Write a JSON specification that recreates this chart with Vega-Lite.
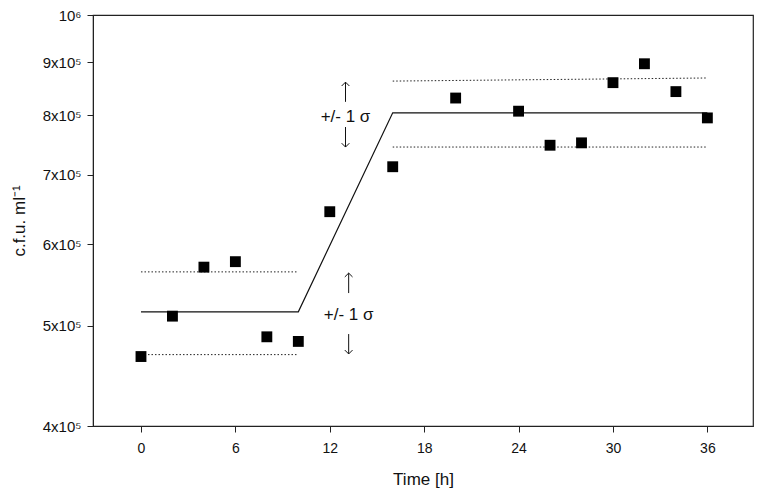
{
  "$schema": "https://vega.github.io/schema/vega-lite/v6.json",
  "width": 660,
  "height": 411,
  "autosize": {"type": "none"},
  "padding": {"left": 93, "top": 15, "right": 9, "bottom": 71},
  "background": "white",
  "config": {
    "view": {"stroke": "#222", "strokeWidth": 1.2},
    "axis": {
      "labelFont": "Liberation Sans",
      "titleFont": "Liberation Sans",
      "labelColor": "#111",
      "titleColor": "#111",
      "domainColor": "#222",
      "tickColor": "#222",
      "grid": false
    }
  },
  "datasets": {
    "points": [
      {"t": 0, "v": 467000}, {"t": 2, "v": 511000}, {"t": 4, "v": 570000},
      {"t": 6, "v": 577000}, {"t": 8, "v": 488000}, {"t": 10, "v": 483000},
      {"t": 12, "v": 645000}, {"t": 16, "v": 713000}, {"t": 20, "v": 831000},
      {"t": 24, "v": 807000}, {"t": 26, "v": 748000}, {"t": 28, "v": 752000},
      {"t": 30, "v": 860000}, {"t": 32, "v": 897000}, {"t": 34, "v": 843000},
      {"t": 36, "v": 795000}
    ],
    "model": [
      {"t": 0, "v": 516000}, {"t": 10, "v": 516000},
      {"t": 16, "v": 804000}, {"t": 36, "v": 804000}
    ],
    "bounds": [
      {"s": "up1", "t": 0, "v": 564000}, {"s": "up1", "t": 10, "v": 564000},
      {"s": "lo1", "t": 0, "v": 469000}, {"s": "lo1", "t": 10, "v": 469000},
      {"s": "up2", "t": 16, "v": 863000}, {"s": "up2", "t": 36, "v": 869000},
      {"s": "lo2", "t": 16, "v": 745000}, {"s": "lo2", "t": 36, "v": 745000}
    ],
    "notes": [
      {"t": 13, "v": 796000, "label": "+/- 1 σ"},
      {"t": 13.2, "v": 512500, "label": "+/- 1 σ"}
    ],
    "arrows": [
      {"t": 13, "tip": 861000, "tail": 824000, "dir": "up"},
      {"t": 13, "tip": 745000, "tail": 779000, "dir": "down"},
      {"t": 13.2, "tip": 562500, "tail": 538000, "dir": "up"},
      {"t": 13.2, "tip": 469700, "tail": 491000, "dir": "down"}
    ]
  },
  "layer": [
    {
      "data": {"name": "bounds"},
      "mark": {"type": "line", "color": "#222", "strokeWidth": 1, "strokeDash": [1.5, 2]},
      "encoding": {
        "x": {"field": "t", "type": "quantitative"},
        "y": {"field": "v", "type": "quantitative"},
        "detail": {"field": "s"}
      }
    },
    {
      "data": {"name": "model"},
      "mark": {"type": "line", "color": "#111", "strokeWidth": 1.2},
      "encoding": {
        "x": {"field": "t", "type": "quantitative"},
        "y": {"field": "v", "type": "quantitative"}
      }
    },
    {
      "data": {"name": "points"},
      "mark": {"type": "square", "color": "black", "opacity": 1, "size": 118},
      "encoding": {
        "x": {
          "field": "t", "type": "quantitative",
          "scale": {"domain": [-3.05, 38.9], "nice": false, "zero": false},
          "axis": {
            "values": [0, 6, 12, 18, 24, 30, 36],
            "title": "Time [h]",
            "titleFontSize": 17,
            "titleFontWeight": "normal",
            "titlePadding": 16,
            "labelFontSize": 14,
            "labelPadding": 9,
            "tickSize": 6,
            "domain": true
          }
        },
        "y": {
          "field": "v", "type": "quantitative",
          "scale": {"type": "log", "domain": [400000, 1000000], "nice": false},
          "axis": {
            "values": [400000, 500000, 600000, 700000, 800000, 900000, 1000000],
            "labelExpr": "datum.value >= 999999 ? '10⁶' : format(datum.value/100000, 'd') + 'x10⁵'",
            "title": "c.f.u. ml⁻¹",
            "titleFontSize": 17,
            "titleFontWeight": "normal",
            "titlePadding": 14,
            "labelFontSize": 15,
            "labelPadding": 6,
            "tickSize": 6
          }
        }
      }
    },
    {
      "data": {"name": "notes"},
      "mark": {"type": "text", "font": "Liberation Sans", "fontSize": 17, "color": "#111", "align": "center", "baseline": "middle"},
      "encoding": {
        "x": {"field": "t", "type": "quantitative"},
        "y": {"field": "v", "type": "quantitative"},
        "text": {"field": "label"}
      }
    },
    {
      "data": {"name": "arrows"},
      "mark": {"type": "rule", "color": "#111", "strokeWidth": 1},
      "encoding": {
        "x": {"field": "t", "type": "quantitative"},
        "y": {"field": "tip", "type": "quantitative"},
        "y2": {"field": "tail"}
      }
    },
    {
      "data": {"name": "arrows"},
      "mark": {"type": "point", "filled": false, "color": "#111", "strokeWidth": 1, "opacity": 1, "size": 60},
      "encoding": {
        "x": {"field": "t", "type": "quantitative"},
        "y": {"field": "tip", "type": "quantitative"},
        "shape": {
          "field": "dir", "type": "nominal", "legend": null,
          "scale": {"domain": ["up", "down"], "range": ["M-1,1L0,0L1,1", "M-1,-1L0,0L1,-1"]}
        }
      }
    }
  ]
}
